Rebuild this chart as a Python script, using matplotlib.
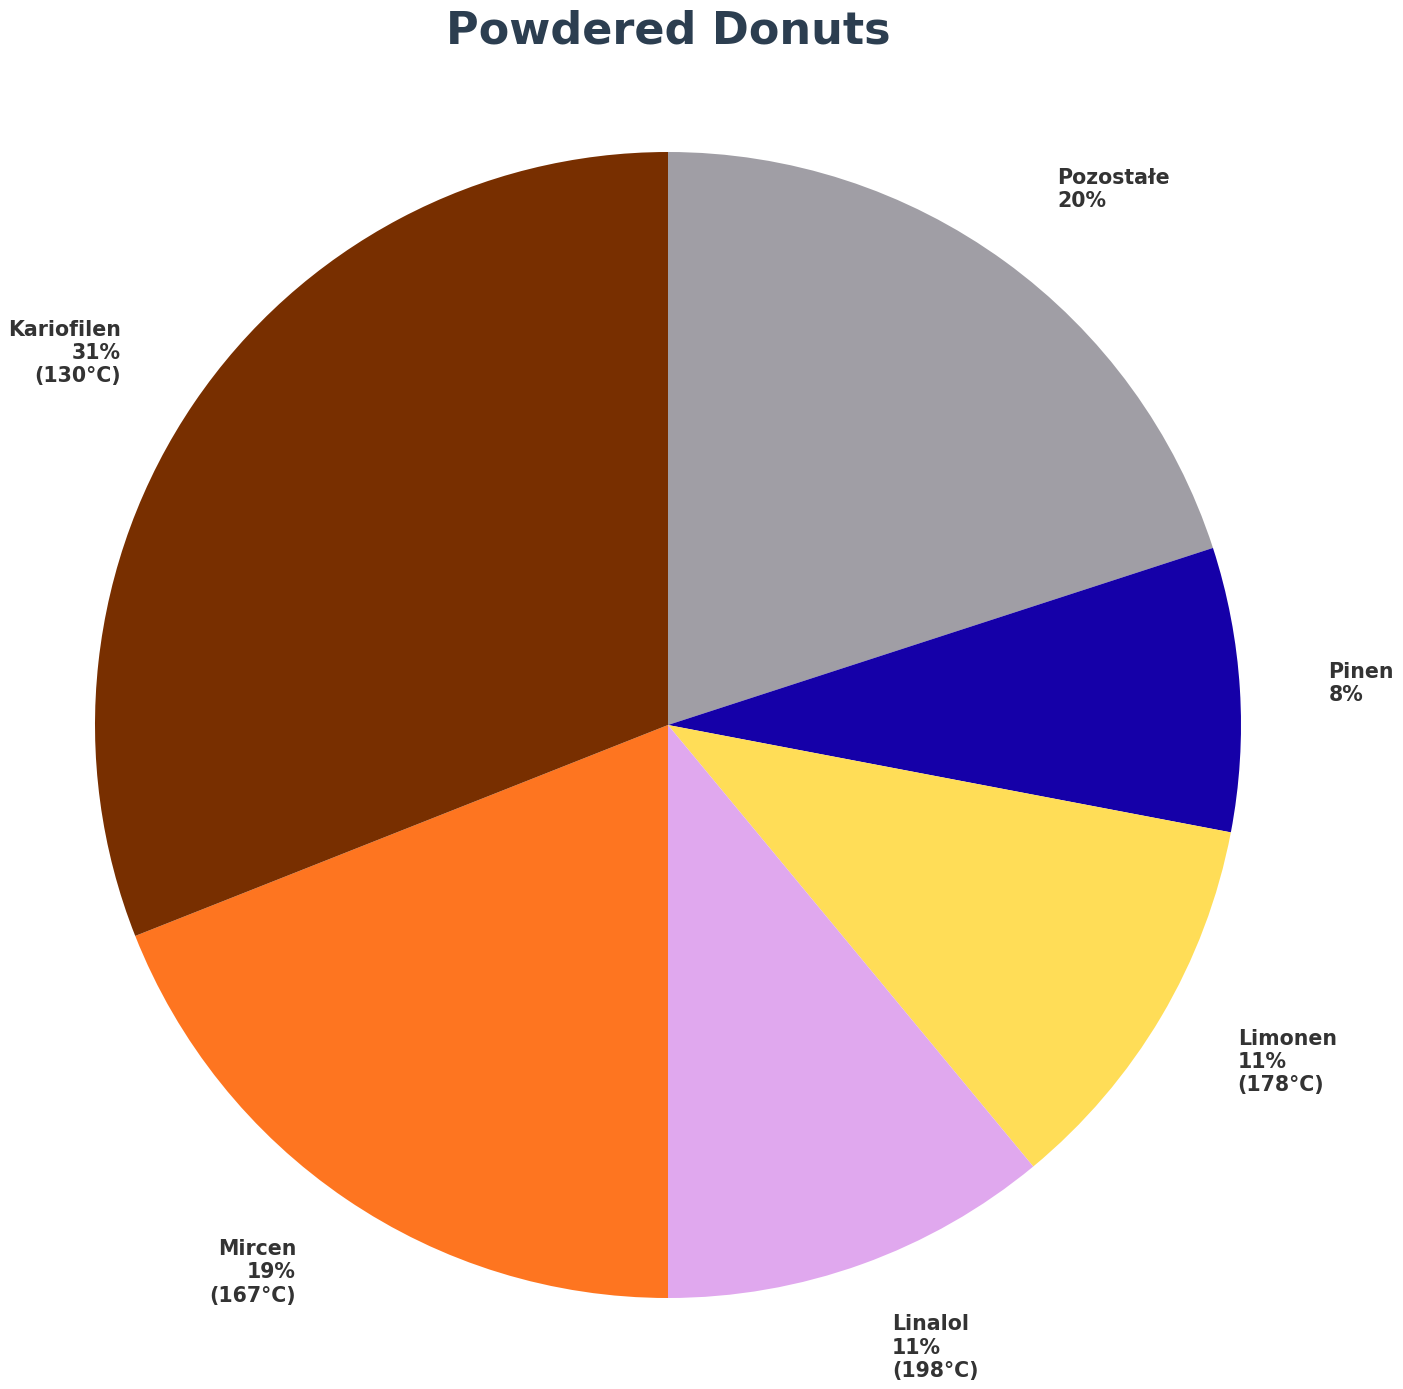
import matplotlib
matplotlib.use("Agg")
import matplotlib.pyplot as plt

names = ["Pozostałe", "Pinen", "Limonen", "Linalol", "Mircen", "Kariofilen"]
shares = [20, 8, 11, 11, 19, 31]
temps = [None, None, 178, 198, 167, 130]
colors = ["#a09ea5", "#1500a8", "#ffdd57", "#e0a8ee", "#fe7520", "#782f00"]

labels = []
for n, s, t in zip(names, shares, temps):
    lab = f"{n}\n{s}%"
    if t is not None:
        lab += f"\n({t}°C)"
    labels.append(lab)

W, H = 1403, 1389
fig = plt.figure(figsize=(W / 100, H / 100), dpi=100)
ax = fig.add_axes([0, 0, 1, 1])
cx, cy, R = 668, 725, 573

wedges, texts = ax.pie(shares, labels=labels, colors=colors, startangle=90,
                       counterclock=False, labeldistance=1.155, radius=1.0,
                       textprops=dict(fontsize=14.8, fontweight="bold", color="#333333"))
ax.set_aspect("auto")
ax.set_xlim((0 - cx) / R, (W - cx) / R)
ax.set_ylim(-(H - cy) / R, cy / R)
ax.axis("off")

fig.text(cx / W, 1 - 44 / H, "Powdered Donuts", ha="center", va="baseline",
         fontsize=32, fontweight="bold", color="#2c3e50")

fig.savefig("out.png", dpi=100)
